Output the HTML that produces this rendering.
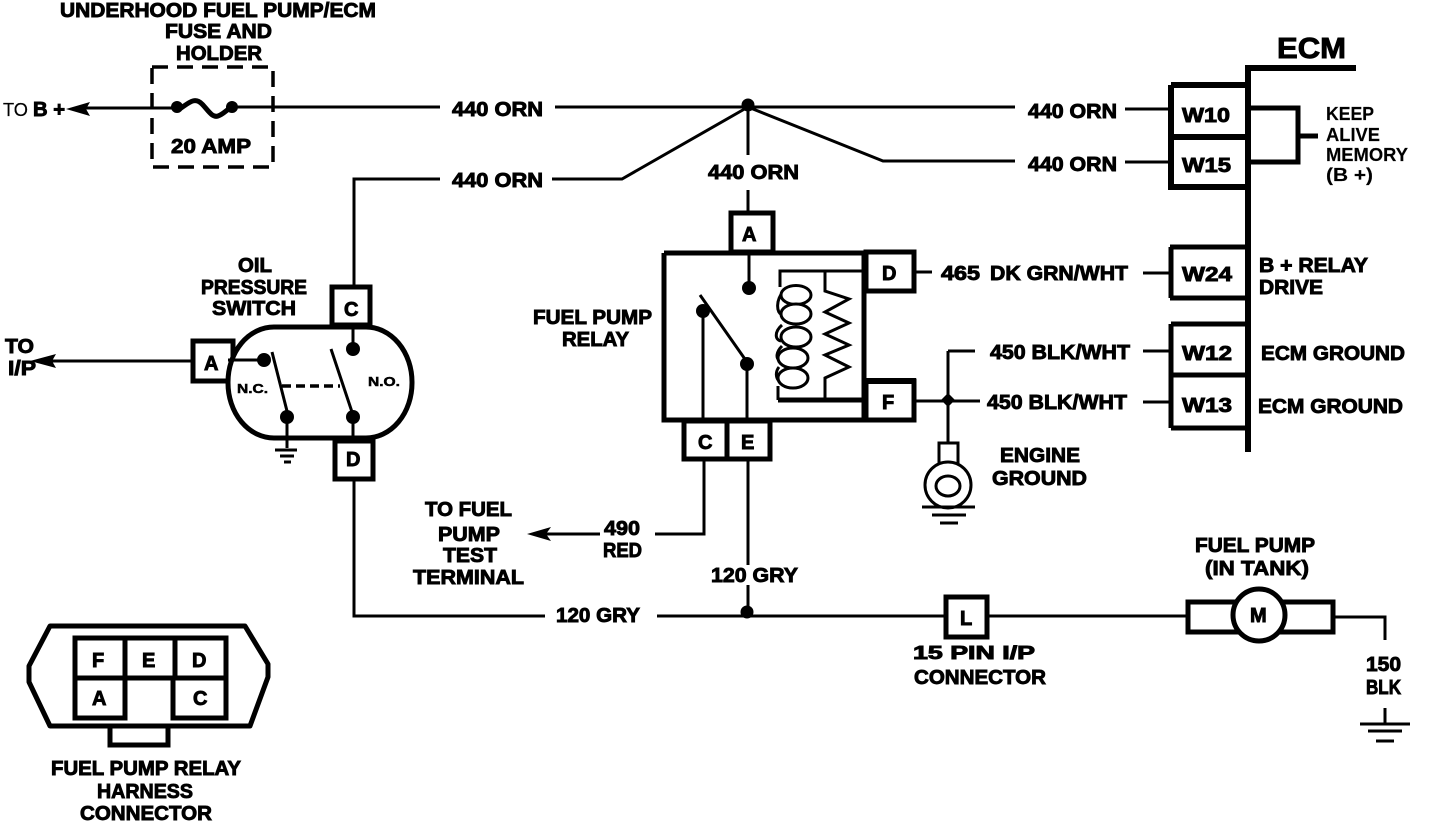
<!DOCTYPE html>
<html><head><meta charset="utf-8"><style>
html,body{margin:0;padding:0;background:#fff;width:1440px;height:822px;overflow:hidden}
svg{display:block}
text{font-family:"Liberation Sans",sans-serif;font-weight:bold;font-size:20px;fill:#000;stroke:#000;stroke-width:.9}
.k{font-size:18px;stroke-width:.15}
.s{font-size:13px;stroke-width:.5}
.t{font-weight:normal;font-size:18px;stroke-width:.2}
.l{fill:none;stroke:#000;stroke-width:3}
.m{fill:none;stroke:#000;stroke-width:5}
.b{fill:none;stroke:#000;stroke-width:6}
.n{fill:#fff;stroke:#000;stroke-width:5}
</style></head><body>
<svg width="1440" height="822" viewBox="0 0 1440 822" xmlns="http://www.w3.org/2000/svg">
<rect width="1440" height="822" fill="#fff"/>
<!-- Fuse -->
<rect x="152" y="67" width="121" height="100" fill="none" stroke="#000" stroke-width="3.5" stroke-dasharray="16 9"/>
<path class="l" d="M78 108H177M232 107H440"/>
<path d="M66 109L90 102L86 109L90 116Z" fill="#000"/>
<circle cx="177" cy="107" r="6"/><circle cx="232" cy="107" r="6"/>
<path class="m" d="M178 110C188 104 194 96 202 104C208 110 212 118 218 116C224 114 226 110 232 107"/>
<!-- 440 lines -->
<path class="l" d="M555 107H1015M748 107L622 179H552M440 179H354V286M748 107L883 161H1015M748 107V155M748 190V212"/>
<path class="l" d="M1125 109H1170M1125 162H1170"/>
<circle cx="748" cy="105" r="6.5"/>
<!-- ECM -->
<path class="b" d="M1248 452V68H1356"/>
<path class="m" d="M1170 247H1248M1170 298H1248"/>
<path class="b" d="M1171 85H1248M1171 85V187H1248M1171 137H1250"/>
<path class="m" d="M1250 108H1298V162H1250M1298 136H1318"/>
<path class="m" d="M1171 247V298M1171 324V428M1171 324H1248M1171 375H1248M1171 428H1248"/>
<path class="l" d="M1143 273H1170M1143 351H1170M1143 402H1170"/>
<!-- Relay -->
<path class="m" d="M664 253H914M664 253V420H914"/>
<path class="m" d="M864 253V420"/>
<rect class="n" x="866" y="252" width="48" height="39"/>
<rect class="n" x="866" y="381" width="48" height="39"/>
<path class="b" d="M866 381H916"/>
<rect class="n" x="731" y="213" width="42" height="39"/>
<rect class="n" x="684" y="421" width="43" height="38"/>
<rect class="n" x="727" y="421" width="43" height="38"/>
<path class="l" d="M749 254V288"/>
<circle cx="749" cy="288" r="7"/><circle cx="703" cy="311" r="7"/><circle cx="747" cy="364" r="7"/>
<path class="l" d="M700 295L747 362M703 311V420M747 364V420"/>
<path class="l" d="M864 271H780V287M778 386V400"/>
<path class="m" d="M778 400H864" />
<g fill="none" stroke="#000" stroke-width="3">
<path d="M783 292C776 300 776 312 782 315M782 325C774 332 775 340 781 341M782 346C776 352 776 358 779 360M779 367C775 372 776 378 779 381"/>
<ellipse cx="796" cy="295" rx="15" ry="9.5" fill="#fff"/>
<ellipse cx="796" cy="314" rx="15" ry="10" fill="#fff"/>
<ellipse cx="796" cy="337" rx="15" ry="10" fill="#fff"/>
<ellipse cx="793" cy="358" rx="15" ry="10" fill="#fff"/>
<ellipse cx="793" cy="378" rx="15" ry="10" fill="#fff"/>
<path d="M825 271V291L849 299L825 312L849 323L825 334L849 345L825 355L849 367L825 378V400"/>
</g>
<!-- Relay connections -->
<path class="l" d="M916 272H932"/>
<path class="l" d="M916 401H980M948 351V442M948 351H975"/>
<path d="M948 393L955 400L948 407L941 400Z" fill="#000"/>
<rect x="939" y="443" width="19" height="22" fill="#fff" stroke="#000" stroke-width="3"/>
<circle cx="948" cy="485" r="23" fill="#fff" stroke="#000" stroke-width="3"/>
<ellipse cx="948" cy="486" rx="12" ry="10" fill="none" stroke="#000" stroke-width="3"/>
<path class="l" d="M922 507H975M932 515H966M940 523H958"/>
<path class="l" d="M704 460V534H655M600 534H540M748 460V565M748 585V616"/>
<path d="M527 534L551 527L546 534L551 541Z" fill="#000"/>
<circle cx="747" cy="612" r="6.5"/>
<!-- Oil switch -->
<path class="l" d="M354 480V616H545M657 616H945M987 616H1186"/>
<rect class="n" x="193" y="341" width="40" height="40"/>
<rect x="228" y="327" width="184" height="111" rx="46" ry="55" fill="#fff" stroke="#000" stroke-width="5"/>
<rect class="n" x="332" y="287" width="38" height="38"/>
<rect class="n" x="335" y="441" width="38" height="38"/>
<path class="l" d="M228 360H263"/>
<path class="l" d="M272 352L288 415M287 417V448M353 325V348M331 349L352 412M353 417V441"/>
<path class="l" d="M38 361H192"/>
<path d="M30 361L56 354L52 361L56 368Z" fill="#000"/>
<path d="M282 386H340" fill="none" stroke="#000" stroke-width="3.5" stroke-dasharray="9 5"/>
<circle cx="264" cy="360" r="7"/><circle cx="287" cy="417" r="7"/><circle cx="353" cy="349" r="7"/><circle cx="353" cy="417" r="7"/>
<path class="l" d="M275 450H297M280 456H294M284 462H291"/>
<!-- Pump -->
<rect x="1188" y="602" width="145" height="30" fill="#fff" stroke="#000" stroke-width="5"/>
<circle cx="1259" cy="615" r="26" fill="#fff" stroke="#000" stroke-width="5"/>
<path class="l" d="M1335 617H1385V640M1385 708V725M1360 724H1410M1368 731H1402M1376 741H1394"/>
<rect class="n" x="946" y="597" width="41" height="40"/>
<!-- Harness -->
<path class="m" d="M50 626H245L268 664V677L250 726H50L29 682V666Z" stroke-linejoin="round"/>
<path class="m" d="M75 638H226V718H173V678H125V718H75ZM75 678H226M125 638V678M175 638V678"/>
<path class="m" d="M110 728V745H168V728"/>
<!-- Labels -->
<text x="60" y="17" textLength="316" lengthAdjust="spacingAndGlyphs">UNDERHOOD FUEL PUMP/ECM</text>
<text x="165" y="38" textLength="107" lengthAdjust="spacingAndGlyphs">FUSE AND</text>
<text x="176" y="60" textLength="86" lengthAdjust="spacingAndGlyphs">HOLDER</text>
<text class="t" x="3" y="116" textLength="25" lengthAdjust="spacingAndGlyphs">TO</text>
<text x="33" y="116" textLength="32" lengthAdjust="spacingAndGlyphs">B +</text>
<text x="171" y="153" textLength="80" lengthAdjust="spacingAndGlyphs">20 AMP</text>
<text x="452" y="116" textLength="91" lengthAdjust="spacingAndGlyphs">440 ORN</text>
<text x="452" y="187" textLength="91" lengthAdjust="spacingAndGlyphs">440 ORN</text>
<text x="708" y="179" textLength="91" lengthAdjust="spacingAndGlyphs">440 ORN</text>
<text x="1028" y="118" textLength="89" lengthAdjust="spacingAndGlyphs">440 ORN</text>
<text x="1028" y="171" textLength="89" lengthAdjust="spacingAndGlyphs">440 ORN</text>
<text x="1182" y="122" textLength="48" lengthAdjust="spacingAndGlyphs">W10</text>
<text x="1182" y="172" textLength="49" lengthAdjust="spacingAndGlyphs">W15</text>
<text x="1182" y="281" textLength="50" lengthAdjust="spacingAndGlyphs">W24</text>
<text x="1182" y="360" textLength="50" lengthAdjust="spacingAndGlyphs">W12</text>
<text x="1182" y="412" textLength="50" lengthAdjust="spacingAndGlyphs">W13</text>
<text x="1277" y="58" textLength="69" lengthAdjust="spacingAndGlyphs" style="font-size:29px">ECM</text>
<text class="k" x="1326" y="120" textLength="48" lengthAdjust="spacingAndGlyphs">KEEP</text>
<text class="k" x="1326" y="141" textLength="54" lengthAdjust="spacingAndGlyphs">ALIVE</text>
<text class="k" x="1326" y="161" textLength="82" lengthAdjust="spacingAndGlyphs">MEMORY</text>
<text class="k" x="1326" y="181" textLength="47" lengthAdjust="spacingAndGlyphs">(B +)</text>
<text x="1259" y="272" textLength="109" lengthAdjust="spacingAndGlyphs">B + RELAY</text>
<text x="1259" y="294" textLength="64" lengthAdjust="spacingAndGlyphs">DRIVE</text>
<text x="1261" y="360" textLength="144" lengthAdjust="spacingAndGlyphs">ECM GROUND</text>
<text x="1258" y="413" textLength="145" lengthAdjust="spacingAndGlyphs">ECM GROUND</text>
<text x="941" y="280" textLength="39" lengthAdjust="spacingAndGlyphs">465</text>
<text x="990" y="280" textLength="138" lengthAdjust="spacingAndGlyphs">DK GRN/WHT</text>
<text x="990" y="359" textLength="140" lengthAdjust="spacingAndGlyphs">450 BLK/WHT</text>
<text x="987" y="409" textLength="140" lengthAdjust="spacingAndGlyphs">450 BLK/WHT</text>
<text x="1000" y="462" textLength="80" lengthAdjust="spacingAndGlyphs">ENGINE</text>
<text x="992" y="485" textLength="95" lengthAdjust="spacingAndGlyphs">GROUND</text>
<text x="533" y="324" textLength="119" lengthAdjust="spacingAndGlyphs">FUEL PUMP</text>
<text x="562" y="346" textLength="67" lengthAdjust="spacingAndGlyphs">RELAY</text>
<text x="238" y="272" textLength="34" lengthAdjust="spacingAndGlyphs">OIL</text>
<text x="201" y="294" textLength="106" lengthAdjust="spacingAndGlyphs">PRESSURE</text>
<text x="212" y="315" textLength="84" lengthAdjust="spacingAndGlyphs">SWITCH</text>
<text x="5" y="353" textLength="29" lengthAdjust="spacingAndGlyphs">TO</text>
<text x="8" y="375" textLength="28" lengthAdjust="spacingAndGlyphs">I/P</text>
<text x="425" y="516" textLength="87" lengthAdjust="spacingAndGlyphs">TO FUEL</text>
<text x="438" y="541" textLength="62" lengthAdjust="spacingAndGlyphs">PUMP</text>
<text x="443" y="562" textLength="54" lengthAdjust="spacingAndGlyphs">TEST</text>
<text x="413" y="584" textLength="111" lengthAdjust="spacingAndGlyphs">TERMINAL</text>
<text x="604" y="535" textLength="36" lengthAdjust="spacingAndGlyphs">490</text>
<text x="603" y="557" textLength="39" lengthAdjust="spacingAndGlyphs">RED</text>
<text x="711" y="582" textLength="87" lengthAdjust="spacingAndGlyphs">120 GRY</text>
<text x="556" y="622" textLength="84" lengthAdjust="spacingAndGlyphs">120 GRY</text>
<text x="913" y="659" style="font-size:18px" textLength="122" lengthAdjust="spacingAndGlyphs">15 PIN I/P</text>
<text x="914" y="684" textLength="132" lengthAdjust="spacingAndGlyphs">CONNECTOR</text>
<text x="1195" y="552" textLength="120" lengthAdjust="spacingAndGlyphs">FUEL PUMP</text>
<text x="1205" y="575" textLength="104" lengthAdjust="spacingAndGlyphs">(IN TANK)</text>
<text x="1366" y="671" textLength="35" lengthAdjust="spacingAndGlyphs">150</text>
<text x="1366" y="694" textLength="35" lengthAdjust="spacingAndGlyphs">BLK</text>
<text x="51" y="775" textLength="190" lengthAdjust="spacingAndGlyphs">FUEL PUMP RELAY</text>
<text x="97" y="798" textLength="96" lengthAdjust="spacingAndGlyphs">HARNESS</text>
<text x="80" y="820" textLength="132" lengthAdjust="spacingAndGlyphs">CONNECTOR</text>
<text x="742" y="241">A</text>
<text x="882" y="280">D</text>
<text x="882" y="409">F</text>
<text x="698" y="449">C</text>
<text x="741" y="449">E</text>
<text x="204" y="370">A</text>
<text x="344" y="316">C</text>
<text x="346" y="466">D</text>
<text x="960" y="625">L</text>
<text x="1250" y="622">M</text>
<text x="92" y="667">F</text>
<text x="142" y="667">E</text>
<text x="192" y="667">D</text>
<text x="92" y="705">A</text>
<text x="193" y="705">C</text>
<text class="s" x="237" y="393" textLength="31" lengthAdjust="spacingAndGlyphs">N.C.</text>
<text class="s" x="368" y="386" textLength="32" lengthAdjust="spacingAndGlyphs">N.O.</text>
</svg>
</body></html>
